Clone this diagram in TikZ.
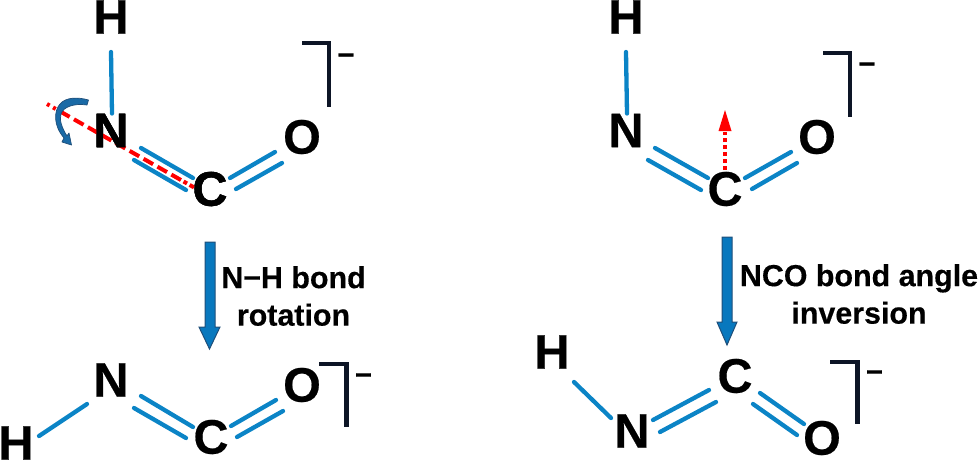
\documentclass[tikz,border=0pt]{standalone}
\usepackage{fontspec}
\setmainfont{Liberation Sans}[BoldFeatures={FakeBold=0.4}]
\definecolor{bondblue}{HTML}{0B84C6}
\definecolor{bracketdark}{HTML}{0D1526}
\definecolor{blockblue}{HTML}{0878BE}
\definecolor{blockedge}{HTML}{1F4E79}
\definecolor{curvefill}{HTML}{1A6AA6}
\definecolor{curveedge}{HTML}{1F4E79}
\tikzset{
  atom/.style={inner sep=0pt,outer sep=0pt,font=\fontsize{48.5}{49}\selectfont\bfseries,text=black},
  chargemark/.style={inner sep=0pt,outer sep=0pt,font=\fontsize{29}{29}\selectfont\bfseries,text=black},
  caption/.style={inner sep=0pt,outer sep=0pt,align=center,font=\fontsize{30.4}{37.5}\selectfont\bfseries,text=black},
  bond/.style={line width=4.3pt,line cap=round,color=bondblue},
  bracket/.style={line width=4.2pt,color=bracketdark,line join=miter},
  blockarrow/.style={fill=blockblue,draw=blockedge,line width=1pt,line join=miter},
  reddash/.style={line width=4pt,color=red,dash pattern=on 3pt off 4pt on 3pt off 5pt on 11pt off 5pt on 11pt off 5pt on 11pt off 5pt on 11pt off 5pt on 11pt off 5pt on 11pt off 5pt on 11pt off 5pt on 11pt off 5pt on 11pt},
  reddot/.style={line width=4.5pt,color=red,dash pattern=on 4pt off 3pt},
}
\begin{document}
\begin{tikzpicture}[x=1pt,y=-1pt]
\useasboundingbox (0,0) rectangle (979,461);
% block arrows
\draw[blockarrow] (205,242) -- (215,242) -- (215,327) -- (220,327) -- (209.5,349) -- (199,327) -- (205,327) -- cycle;
\draw[blockarrow] (722,237) -- (732,237) -- (732,322) -- (737,322) -- (727,345) -- (717,322) -- (722,322) -- cycle;
% atoms: top left
\node[atom] (H1) at (111,17) {H};
\node[atom] (N1) at (111,130.5) {N};
\node[atom] (C1) at (210,189) {C};
\node[atom] (O1) at (302,137) {O};
% top right
\node[atom] (H2) at (626,17) {H};
\node[atom] (N2) at (626,130.5) {N};
\node[atom] (C2) at (725,189) {C};
\node[atom] (O2) at (817,137) {O};
% bottom left
\node[atom] (H3) at (16,443) {H};
\node[atom] (N3) at (111,380) {N};
\node[atom] (C3) at (211,437) {C};
\node[atom] (O3) at (302,385) {O};
% bottom right
\node[atom] (H4) at (552,352) {H};
\node[atom] (N4) at (632,431) {N};
\node[atom] (C4) at (735,376) {C};
\node[atom] (O4) at (822,438) {O};
% bonds top left
\draw[bond] ([shift={(0,35)}]H1.center) -- ([shift={(1,-17)}]N1.center);
\draw[bond] ([shift={(30,17.5)}]N1.center) -- ([shift={(-17,-11)}]C1.center);
\draw[bond] ([shift={(23,29.5)}]N1.center) -- ([shift={(-24,1)}]C1.center);
\draw[bond] ([shift={(20,-11)}]C1.center) -- ([shift={(-27,15)}]O1.center);
\draw[bond] ([shift={(26,0)}]C1.center) -- ([shift={(-20,26)}]O1.center);
% bonds top right
\draw[bond] ([shift={(0,35)}]H2.center) -- ([shift={(1,-17)}]N2.center);
\draw[bond] ([shift={(29,17.5)}]N2.center) -- ([shift={(-17,-11)}]C2.center);
\draw[bond] ([shift={(22,29.5)}]N2.center) -- ([shift={(-24,1)}]C2.center);
\draw[bond] ([shift={(20,-11)}]C2.center) -- ([shift={(-26,15)}]O2.center);
\draw[bond] ([shift={(27,0)}]C2.center) -- ([shift={(-20,26)}]O2.center);
% bonds bottom left
\draw[bond] ([shift={(23,-7)}]H3.center) -- ([shift={(-24,24)}]N3.center);
\draw[bond] ([shift={(30,16)}]N3.center) -- ([shift={(-18,-10)}]C3.center);
\draw[bond] ([shift={(23,28)}]N3.center) -- ([shift={(-25,1)}]C3.center);
\draw[bond] ([shift={(20,-11)}]C3.center) -- ([shift={(-26,15)}]O3.center);
\draw[bond] ([shift={(26,0)}]C3.center) -- ([shift={(-19,26)}]O3.center);
% bonds bottom right
\draw[bond] ([shift={(22,30)}]H4.center) -- ([shift={(-21,-13)}]N4.center);
\draw[bond] ([shift={(21,-11)}]N4.center) -- ([shift={(-26,14)}]C4.center);
\draw[bond] ([shift={(28,1)}]N4.center) -- ([shift={(-19,26)}]C4.center);
\draw[bond] ([shift={(25,17)}]C4.center) -- ([shift={(-18,-14)}]O4.center);
\draw[bond] ([shift={(18,28)}]C4.center) -- ([shift={(-25,-3)}]O4.center);
% brackets
\coordinate (B1a) at (302,43); \coordinate (B1b) at (329,43); \coordinate (B1c) at (329,107);
\coordinate (B2a) at (823,53); \coordinate (B2b) at (850,53); \coordinate (B2c) at (850,117);
\coordinate (B3a) at (319,364); \coordinate (B3b) at (346.5,364); \coordinate (B3c) at (346.5,427);
\coordinate (B4a) at (830,362); \coordinate (B4b) at (857.5,362); \coordinate (B4c) at (857.5,424);
\draw[bracket] (B1a) -- (B1b) -- (B1c);
\draw[bracket] (B2a) -- (B2b) -- (B2c);
\draw[bracket] (B3a) -- (B3b) -- (B3c);
\draw[bracket] (B4a) -- (B4b) -- (B4c);
\node[chargemark] (M1) at (346,59) {−};
\node[chargemark] (M2) at (867,68) {−};
\node[chargemark] (M3) at (363.5,379) {−};
\node[chargemark] (M4) at (874.5,376) {−};
% red markers
\coordinate (R1) at (47,104);
\draw[reddash] (R1) -- ([shift={(-15,-1)}]C1.center);
\coordinate (T2) at (725,132);
\draw[reddot] ([shift={(0,-19)}]C2.center) -- (T2);
\fill[red] (725,110) -- (731.5,131) -- (718.5,131) -- cycle;
% redraw letters over the red line
\node[atom] at (N1) {N};
\node[atom] at (C1) {C};
% curved arrow
\draw[fill=curvefill,draw=curveedge,line width=0.7pt,line join=round]
  (88.5,100) .. controls (78,97) and (66,97) .. (60,104) .. controls (54,111) and (53,125) .. (64,138)
  -- (62,142) -- (71.5,145) -- (69,133) -- (67,136)
  .. controls (62,128) and (59,120) .. (61,114) .. controls (63,107) and (74,103) .. (87,105) -- cycle;
% captions
\node[caption] (L1) at (293.5,296) {N−H bond\\rotation};
\node[caption] (L2) at (859,294) {NCO bond angle\\inversion};
\end{tikzpicture}
\end{document}
